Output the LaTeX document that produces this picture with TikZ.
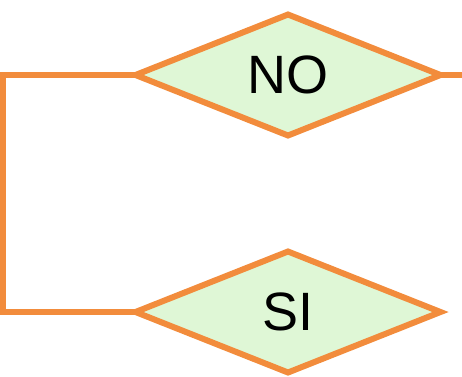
\documentclass[tikz,border=0pt]{standalone}
\usepackage{fontspec}
\setmainfont{Liberation Sans}
\usetikzlibrary{shapes.geometric}
\definecolor{orangeline}{HTML}{F28C3C}
\definecolor{greenfill}{HTML}{DFF7D6}
\tikzset{
  choice/.style={diamond, draw=orangeline, fill=greenfill, line width=6pt,
    inner sep=0pt, outer sep=0pt, minimum width=305pt, minimum height=121pt,
    font=\fontsize{54}{54}\selectfont},
  link/.style={draw=orangeline, line width=6pt, line join=miter}
}
\begin{document}
\begin{tikzpicture}[x=1pt,y=-1pt]
 \useasboundingbox (0,0) rectangle (462,376);
 \node[choice] (no) at (288,75) {NO};
 \node[choice] (si) at (288,312) {SI};
 \coordinate (out) at (462,75);
 \coordinate (bend) at (3,75);
 \draw[link] (no.west) -- (bend) |- (si.west);
 \draw[link] (no.east) -- (out);
\end{tikzpicture}
\end{document}
